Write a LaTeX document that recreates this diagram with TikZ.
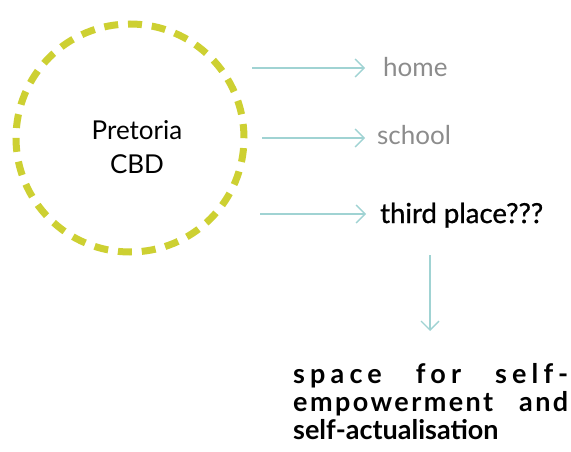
\documentclass[tikz,border=0pt]{standalone}
\usepackage{fontspec}
\setmainfont{Lato}
\usetikzlibrary{positioning, arrows.meta}
\definecolor{cbdyellow}{RGB}{205,208,50}
\definecolor{flowteal}{RGB}{160,211,211}
\definecolor{softgray}{RGB}{140,140,140}

\begin{document}
\begin{tikzpicture}
    [
        x=1pt, y=-1pt,
        cbd_node/.style={circle, draw=cbdyellow, line width=7pt, minimum size=228pt, dash pattern=on 14pt off 9.87pt},
        place_node/.style={anchor=base west, inner sep=0pt, font=\fontsize{26}{30}\selectfont},
        flow_arrow/.style={-{Straight Barb[length=9pt, width=18pt]}, line width=1.3pt, color=flowteal},
    ]
        \useasboundingbox (0,0) rectangle (571,452);
        \node[cbd_node] (cbd) at (130,138) {} ;
        \node[inner sep=0pt, anchor=base, align=center, font=\fontsize{26}{34}\selectfont] (cbdtext) at (137,173) {Pretoria\\CBD} ;
        \node[place_node, text=softgray] (home) at (383,77) {home} ;
        \node[place_node, text=softgray] (school) at (377,144) {school} ;
        \node[place_node, text=black, font=\fontsize{27.5}{30}\selectfont] (third) at (380,223) {\addfontfeature{FakeBold=1}third place???} ;
        \node[place_node, font=\bfseries\fontsize{27}{28}\selectfont, align=left] (space) at (293,439)
            {\makebox[275pt][s]{\addfontfeature{LetterSpace=19}space for self-}\\
             \makebox[275pt][s]{\addfontfeature{LetterSpace=9}empowerment and}\\
             self-actualisation} ;
        \coordinate (h0) at (252,68) ;
        \coordinate (h1) at (365,68) ;
        \coordinate (s0) at (262,138) ;
        \coordinate (s1) at (365,138) ;
        \coordinate (t0) at (260,214) ;
        \coordinate (t1) at (366,214) ;
        \coordinate (d0) at (430,255) ;
        \coordinate (d1) at (430,331) ;
        \draw[flow_arrow] (h0) -- (h1) ;
        \draw[flow_arrow] (s0) -- (s1) ;
        \draw[flow_arrow] (t0) -- (t1) ;
        \draw[flow_arrow] (d0) -- (d1) ;
    \end{tikzpicture}
\end{document}
